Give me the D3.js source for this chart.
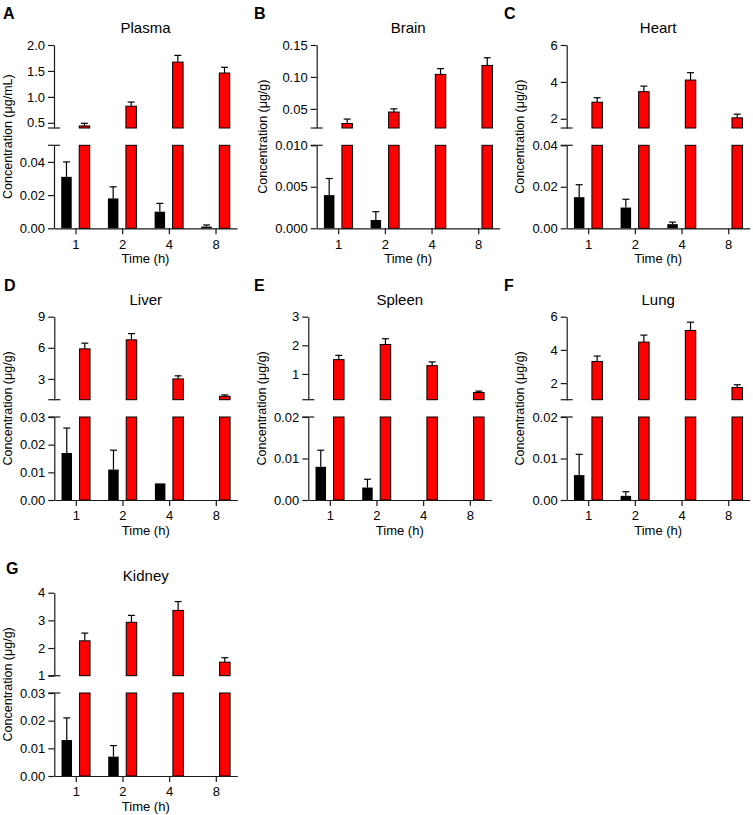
<!DOCTYPE html>
<html><head><meta charset="utf-8">
<script src="https://cdn.jsdelivr.net/npm/d3@7"></script>
<style>
body{margin:0;background:#fff}
text{font-family:"Liberation Sans",Arial,Helvetica,sans-serif;fill:#000}
</style>
</head><body>
<svg id="chart" width="753" height="815"></svg>
<script>
// ---------------- DATA ----------------
const times = ["1", "2", "4", "8"];
const seriesKeys = ["black", "red"];

const organs = ["Plasma", "Brain", "Heart", "Liver", "Spleen", "Lung", "Kidney"];
const panelLetters = ["A", "B", "C", "D", "E", "F", "G"];
const yLabels = ["Concentration (μg/mL)", "Concentration (μg/g)", "Concentration (μg/g)",
  "Concentration (μg/g)", "Concentration (μg/g)", "Concentration (μg/g)", "Concentration (μg/g)"];

// black series (mean, SD)
const blackMean = {
  Plasma: [0.031, 0.018, 0.010, 0.001],
  Brain:  [0.004, 0.001, 0, 0],
  Heart:  [0.015, 0.010, 0.002, 0],
  Liver:  [0.017, 0.011, 0.006, 0],
  Spleen: [0.008, 0.003, 0, 0],
  Lung:   [0.006, 0.001, 0, 0],
  Kidney: [0.013, 0.007, 0, 0]
};
const blackErr = {
  Plasma: [0.009, 0.007, 0.005, 0.001],
  Brain:  [0.002, 0.001, 0, 0],
  Heart:  [0.006, 0.004, 0.001, 0],
  Liver:  [0.009, 0.007, 0, 0],
  Spleen: [0.004, 0.002, 0, 0],
  Lung:   [0.005, 0.001, 0, 0],
  Kidney: [0.008, 0.004, 0, 0]
};
// red series (mean, SD)
const redMean = {
  Plasma: [0.44, 0.82, 1.67, 1.46],
  Brain:  [0.027, 0.045, 0.104, 0.118],
  Heart:  [2.90, 3.47, 4.10, 2.05],
  Liver:  [5.90, 6.77, 3.00, 1.33],
  Spleen: [1.50, 2.03, 1.29, 0.35],
  Lung:   [3.30, 4.47, 5.17, 1.73],
  Kidney: [2.26, 2.93, 3.36, 1.49]
};
const redErr = {
  Plasma: [0.05, 0.08, 0.13, 0.11],
  Brain:  [0.007, 0.005, 0.009, 0.012],
  Heart:  [0.24, 0.30, 0.40, 0.20],
  Liver:  [0.55, 0.60, 0.30, 0.13],
  Spleen: [0.15, 0.20, 0.13, 0.05],
  Lung:   [0.33, 0.42, 0.50, 0.17],
  Kidney: [0.28, 0.25, 0.32, 0.16]
};

// axis segments (broken y axes)
const upperDomain = {
  Plasma: [0.4, 2.0], Brain: [0.02, 0.15], Heart: [1.5, 6], Liver: [1, 9],
  Spleen: [0.1, 3], Lung: [1, 6], Kidney: [1, 4]
};
const upperTicks = {
  Plasma: [0.5, 1.0, 1.5, 2.0], Brain: [0.05, 0.10, 0.15], Heart: [2, 4, 6], Liver: [3, 6, 9],
  Spleen: [1, 2, 3], Lung: [2, 4, 6], Kidney: [1, 2, 3, 4]
};
const upperFormat = { Plasma: ".1f", Brain: ".2f", Heart: "d", Liver: "d", Spleen: "d", Lung: "d", Kidney: "d" };
const lowerDomain = {
  Plasma: [0, 0.05], Brain: [0, 0.010], Heart: [0, 0.04], Liver: [0, 0.03],
  Spleen: [0, 0.02], Lung: [0, 0.02], Kidney: [0, 0.03]
};
const lowerTicks = {
  Plasma: [0, 0.02, 0.04], Brain: [0, 0.005, 0.010], Heart: [0, 0.02, 0.04], Liver: [0, 0.01, 0.02, 0.03],
  Spleen: [0, 0.01, 0.02], Lung: [0, 0.01, 0.02], Kidney: [0, 0.01, 0.02, 0.03]
};
const lowerFormat = { Plasma: ".2f", Brain: ".3f", Heart: ".2f", Liver: ".2f", Spleen: ".2f", Lung: ".2f", Kidney: ".2f" };
const xLabel = "Time (h)";

// ---------------- LAYOUT ----------------
const layout = [
  { axisX: 54,    top: 45,    letterX: 3,   letterY: 19,    ylabX: 11.5 },
  { axisX: 316.7, top: 45,    letterX: 254, letterY: 19,    ylabX: 267 },
  { axisX: 566.7, top: 45,    letterX: 504, letterY: 19,    ylabX: 523.5 },
  { axisX: 54.3,  top: 316.7, letterX: 4,   letterY: 290.5, ylabX: 11.5 },
  { axisX: 308.3, top: 316.7, letterX: 254, letterY: 290.5, ylabX: 265.5 },
  { axisX: 566.7, top: 316.7, letterX: 504, letterY: 290.5, ylabX: 523.5 },
  { axisX: 54.3,  top: 592.7, letterX: 6,   letterY: 574,   ylabX: 11.5 }
];
const plotW = 183, segH = 83, gap = 17.3;

const svg = d3.select("#chart");

organs.forEach((org, i) => {
  const L = layout[i];
  const g = svg.append("g");
  const upTop = L.top, upBot = L.top + segH;
  const loTop = upBot + gap, loBot = loTop + segH;

  const x = d3.scalePoint().domain(times).range([L.axisX, L.axisX + plotW]).padding(0.46);
  const xs = d3.scaleBand().domain(seriesKeys).range([-14.25, 14.25]).paddingInner(0.417);
  const yU = d3.scaleLinear().domain(upperDomain[org]).range([upBot, upTop]);
  const yL = d3.scaleLinear().domain(lowerDomain[org]).range([loBot, loTop]);

  const rows = [];
  times.forEach((t, k) => {
    rows.push({ t, s: "black", v: blackMean[org][k], e: blackErr[org][k] });
    rows.push({ t, s: "red", v: redMean[org][k], e: redErr[org][k] });
  });

  const loMax = lowerDomain[org][1], upMin = upperDomain[org][0];
  const fill = s => s === "red" ? "#ff0000" : "#000";

  // bars
  rows.forEach(r => {
    if (r.v <= 0) return;
    const bx = x(r.t) + xs(r.s), bw = xs.bandwidth();
    const stroke = r.s === "red" ? "#000" : "none";
    const lv = Math.min(r.v, loMax);
    g.append("rect").attr("x", bx).attr("width", bw)
      .attr("y", yL(lv)).attr("height", yL(0) - yL(lv))
      .attr("fill", fill(r.s)).attr("stroke", stroke).attr("stroke-width", 1);
    if (r.v > upMin) {
      g.append("rect").attr("x", bx).attr("width", bw)
        .attr("y", yU(r.v)).attr("height", yU(upMin) - yU(r.v))
        .attr("fill", fill(r.s)).attr("stroke", stroke).attr("stroke-width", 1);
    }
    if (r.e > 0) {
      const sc = r.v > loMax ? yU : yL;
      const cx = bx + bw / 2;
      g.append("line").attr("x1", cx).attr("x2", cx)
        .attr("y1", sc(r.v)).attr("y2", sc(r.v + r.e)).attr("stroke", "#000").attr("stroke-width", 1.2);
      g.append("line").attr("x1", cx - 3.5).attr("x2", cx + 3.5)
        .attr("y1", sc(r.v + r.e)).attr("y2", sc(r.v + r.e)).attr("stroke", "#000").attr("stroke-width", 1.2);
    }
  });

  // axes
  const styleAxis = sel => {
    sel.selectAll("path").attr("stroke", "#1a1a1a").attr("stroke-width", 1.2);
    sel.selectAll("line").attr("stroke", "#1a1a1a").attr("stroke-width", 1.2);
    sel.selectAll("text").style("font-size", "13px").attr("fill", "#000");
  };
  g.append("g").attr("transform", `translate(${L.axisX},0)`)
    .call(d3.axisLeft(yU).tickValues(upperTicks[org]).tickFormat(d3.format(upperFormat[org]))
      .tickSize(6).tickPadding(3).tickSizeOuter(0)).call(styleAxis);
  g.append("g").attr("transform", `translate(${L.axisX},0)`)
    .call(d3.axisLeft(yL).tickValues(lowerTicks[org]).tickFormat(d3.format(lowerFormat[org]))
      .tickSize(6).tickPadding(3).tickSizeOuter(0)).call(styleAxis);
  g.append("g").attr("transform", `translate(0,${loBot})`)
    .call(d3.axisBottom(x).tickSize(6).tickPadding(5).tickSizeOuter(0)).call(styleAxis);

  // break marks
  [upBot, loTop].forEach(yy => {
    g.append("line").attr("x1", L.axisX - 6).attr("x2", L.axisX + 6)
      .attr("y1", yy).attr("y2", yy).attr("stroke", "#1a1a1a").attr("stroke-width", 1.2);
  });

  // titles and labels
  const midX = L.axisX + plotW / 2;
  g.append("text").attr("x", midX).attr("y", upTop - 12).attr("text-anchor", "middle")
    .style("font-size", "15px").text(org);
  g.append("text").attr("x", L.letterX).attr("y", L.letterY)
    .style("font-size", "16px").style("font-weight", "bold").text(panelLetters[i]);
  g.append("text").attr("x", midX).attr("y", loBot + 34.5).attr("text-anchor", "middle")
    .style("font-size", "13px").text(xLabel);
  g.append("text").attr("transform", `translate(${L.ylabX},${(upTop + loBot) / 2}) rotate(-90)`)
    .attr("text-anchor", "middle").style("font-size", "12.5px").text(yLabels[i]);
});
</script>
</body></html>
